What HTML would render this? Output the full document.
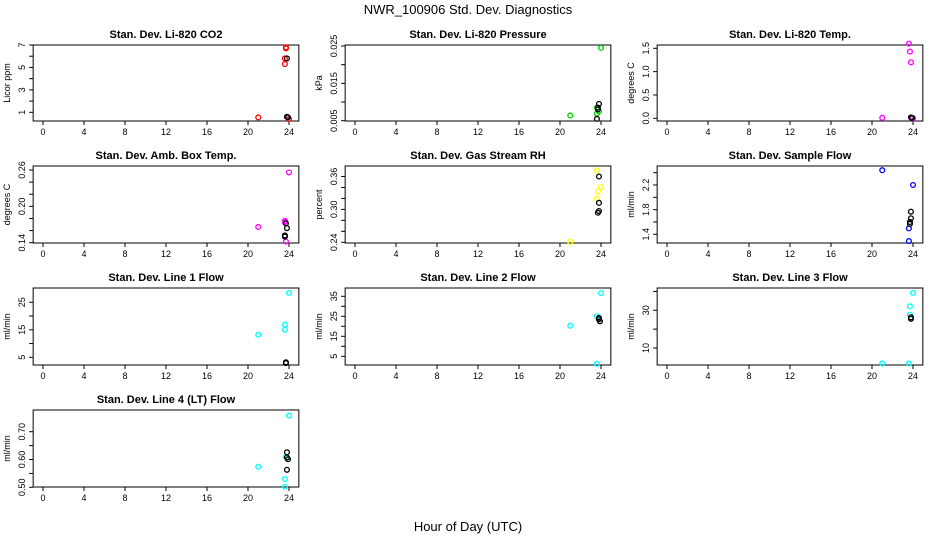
<!DOCTYPE html>
<html><head><meta charset="utf-8"><style>
html,body{margin:0;padding:0;background:#fff;}
svg{display:block;font-family:"Liberation Sans",Arial,sans-serif;}
</style></head><body>
<svg id="chart" width="936" height="540" viewBox="0 0 936 540">
<text x="468" y="14" font-size="13" text-anchor="middle">NWR_100906  Std. Dev. Diagnostics</text>
<text x="468" y="531" font-size="13" text-anchor="middle">Hour of Day (UTC)</text>
</svg>
<script>
// Panel data (hours, values) per series
const co2ColHours = [21, 23.7, 23.7, 23.6, 23.6, 24];
const co2ColVals = [0.55, 6.8, 6.7, 5.8, 5.3, 0.4];
const co2BlkHours = [23.8, 23.8, 23.9];
const co2BlkVals = [5.8, 0.6, 0.55];

const presColHours = [21, 24, 23.6, 23.6, 23.8];
const presColVals = [0.0064, 0.0245, 0.0085, 0.0069, 0.0075];
const presBlkHours = [23.8, 23.7, 23.7, 23.6];
const presBlkVals = [0.0095, 0.0085, 0.008, 0.0055];

const tempColHours = [21, 23.6, 23.7, 23.8, 24];
const tempColVals = [0.01, 1.6, 1.43, 1.2, 0.0];
const tempBlkHours = [23.8, 23.9];
const tempBlkVals = [0.02, 0.01];

const boxColHours = [21, 24, 23.6, 23.6, 23.7];
const boxColVals = [0.166, 0.256, 0.176, 0.174, 0.142];
const boxBlkHours = [23.7, 23.8, 23.6, 23.6];
const boxBlkVals = [0.172, 0.164, 0.152, 0.15];

const rhColHours = [21, 23.6, 24, 23.7, 23.6];
const rhColVals = [0.241, 0.371, 0.341, 0.333, 0.32];
const rhBlkHours = [23.8, 23.8, 23.8, 23.7];
const rhBlkVals = [0.36, 0.312, 0.297, 0.294];

const sfColHours = [21, 24, 23.6, 23.6];
const sfColVals = [2.44, 2.2, 1.497, 1.29];
const sfBlkHours = [23.8, 23.8, 23.7, 23.7];
const sfBlkVals = [1.767, 1.66, 1.57, 1.6];

const l1ColHours = [21, 24, 23.6, 23.6];
const l1ColVals = [13.2, 28.4, 16.9, 15];
const l1BlkHours = [23.7, 23.7];
const l1BlkVals = [2.9, 3.2];

const l2ColHours = [21, 24, 23.6, 23.6];
const l2ColVals = [20.3, 36.6, 25, 1.3];
const l2BlkHours = [23.8, 23.9, 23.8];
const l2BlkVals = [24.2, 22.5, 23.5];

const l3ColHours = [21, 23.6, 24, 23.7, 23.7];
const l3ColVals = [1.8, 1.8, 39.2, 32.1, 27.7];
const l3BlkHours = [23.8, 23.8];
const l3BlkVals = [26.3, 25.5];

const l4ColHours = [21, 24, 23.6, 23.6, 23.7];
const l4ColVals = [0.574, 0.758, 0.53, 0.502, 0.61];
const l4BlkHours = [23.8, 23.8, 23.9, 23.8];
const l4BlkVals = [0.626, 0.607, 0.601, 0.563];

const xTicks = [0, 4, 8, 12, 16, 20, 24];

const panels = [
 {name:'co2', title:'Stan. Dev. Li-820 CO2', yt:'Licor ppm', col:0,row:0, c:'#ff0000', ch:co2ColHours,cv:co2ColVals,bh:co2BlkHours,bv:co2BlkVals,
  v0:1,p0:112.3,v1:7,p1:45, ticks:[1,2,3,4,5,6,7], labels:['1','3','5','7']},
 {name:'pressure', title:'Stan. Dev. Li-820 Pressure', yt:'kPa', col:1,row:0, c:'#00cc00', ch:presColHours,cv:presColVals,bh:presBlkHours,bv:presBlkVals,
  v0:0.005,p0:120.7,v1:0.025,p1:46, ticks:[0.005,0.01,0.015,0.02,0.025], labels:['0.005','0.015','0.025']},
 {name:'temp', title:'Stan. Dev. Li-820 Temp.', yt:'degrees C', col:2,row:0, c:'#ff00ff', ch:tempColHours,cv:tempColVals,bh:tempBlkHours,bv:tempBlkVals,
  v0:0,p0:118.3,v1:1.5,p1:48.3, ticks:[0,0.5,1,1.5], labels:['0.0','0.5','1.0','1.5']},
 {name:'amb-box-temp', title:'Stan. Dev. Amb. Box Temp.', yt:'degrees C', col:0,row:1, c:'#ff00ff', ch:boxColHours,cv:boxColVals,bh:boxBlkHours,bv:boxBlkVals,
  v0:0.14,p0:242.7,v1:0.26,p1:170, ticks:[0.14,0.16,0.18,0.2,0.22,0.24,0.26], labels:['0.14','0.20','0.26']},
 {name:'gas-rh', title:'Stan. Dev. Gas Stream RH', yt:'percent', col:1,row:1, c:'#ffff00', ch:rhColHours,cv:rhColVals,bh:rhBlkHours,bv:rhBlkVals,
  v0:0.24,p0:242.3,v1:0.36,p1:176.5, ticks:[0.24,0.26,0.28,0.3,0.32,0.34,0.36], labels:['0.24','0.30','0.36']},
 {name:'sample-flow', title:'Stan. Dev. Sample Flow', yt:'ml/min', col:2,row:1, c:'#0000ff', ch:sfColHours,cv:sfColVals,bh:sfBlkHours,bv:sfBlkVals,
  v0:1.4,p0:234.3,v1:2.2,p1:185, ticks:[1.4,1.6,1.8,2.0,2.2,2.4], labels:['1.4','1.8','2.2']},
 {name:'line1-flow', title:'Stan. Dev. Line 1 Flow', yt:'ml/min', col:0,row:2, c:'#00ffff', ch:l1ColHours,cv:l1ColVals,bh:l1BlkHours,bv:l1BlkVals,
  v0:5,p0:357.3,v1:25,p1:302.3, ticks:[5,10,15,20,25], labels:['5','15','25']},
 {name:'line2-flow', title:'Stan. Dev. Line 2 Flow', yt:'ml/min', col:1,row:2, c:'#00ffff', ch:l2ColHours,cv:l2ColVals,bh:l2BlkHours,bv:l2BlkVals,
  v0:5,p0:356.3,v1:35,p1:296.3, ticks:[5,10,15,20,25,30,35], labels:['5','15','25','35']},
 {name:'line3-flow', title:'Stan. Dev. Line 3 Flow', yt:'ml/min', col:2,row:2, c:'#00ffff', ch:l3ColHours,cv:l3ColVals,bh:l3BlkHours,bv:l3BlkVals,
  v0:10,p0:348,v1:30,p1:310.3, ticks:[10,20,30,40], labels:['10','30']},
 {name:'line4-flow', title:'Stan. Dev. Line 4 (LT) Flow', yt:'ml/min', col:0,row:3, c:'#00ffff', ch:l4ColHours,cv:l4ColVals,bh:l4BlkHours,bv:l4BlkVals,
  v0:0.5,p0:487.3,v1:0.7,p1:431.7, ticks:[0.5,0.55,0.6,0.65,0.7], labels:['0.50','0.60','0.70']}
];

const svg = document.getElementById('chart');
const NS = 'http://www.w3.org/2000/svg';
const colX0 = [43, 355, 667];
const rowTop = [45, 166, 288, 410];
const rowBot = [121, 243, 365, 487];
function mk(tag, attrs, parent){
  const e = document.createElementNS(NS, tag);
  for (const k in attrs) e.setAttribute(k, attrs[k]);
  (parent||svg).appendChild(e);
  return e;
}
panels.forEach(p => {
  const g = mk('g', {});
  
  
  const x0 = colX0[p.col];
  const xs = h => x0 + h * (246/24);
  const ys = v => p.p0 + (v - p.v0) * (p.p1 - p.p0) / (p.v1 - p.v0);
  const bl = xs(-0.96), br = xs(24.96), bt = rowTop[p.row], bb = rowBot[p.row];
  const box = mk('rect', {x:bl, y:bt, width:br-bl, height:bb-bt, fill:'none', stroke:'#000', 'stroke-width':1}, g);
  
  
  const t = mk('text', {x:(bl+br)/2, y:bt-7, 'font-size':11, 'font-weight':'bold', 'text-anchor':'middle'}, g);
  t.textContent = p.title;
  
  
  // x axis
  xTicks.forEach(h => {
    mk('line', {x1:xs(h), x2:xs(h), y1:bb, y2:bb+4, stroke:'#000'}, g);
    const l = mk('text', {x:xs(h), y:bb+14, 'font-size':9, 'text-anchor':'middle'}, g);
    l.textContent = h;
    
    
  });
  // y axis
  p.ticks.forEach(v => mk('line', {x1:bl-4, x2:bl, y1:ys(v), y2:ys(v), stroke:'#000'}, g));
  p.labels.forEach(s => {
    const yy = ys(parseFloat(s));
    const l = mk('text', {x:0, y:0, 'font-size':9, 'text-anchor':'middle', transform:`translate(${bl-8},${yy}) rotate(-90)`}, g);
    l.textContent = s;
    
    
  });
  const yt = mk('text', {x:0, y:0, 'font-size':9, 'text-anchor':'middle', transform:`translate(${bl-23},${(bt+bb)/2}) rotate(-90)`}, g);
  yt.textContent = p.yt;
  
  
  // points
  p.ch.forEach((h, i) => {
    const c = mk('circle', {cx:xs(h), cy:ys(p.cv[i]), r:2.4, fill:'none', stroke:p.c, 'stroke-width':1.3}, g);
    
    
  });
  p.bh.forEach((h, i) => {
    const c = mk('circle', {cx:xs(h), cy:ys(p.bv[i]), r:2.4, fill:'none', stroke:'#000', 'stroke-width':1.3}, g);
    
    
  });
});
</script>
</body></html>
